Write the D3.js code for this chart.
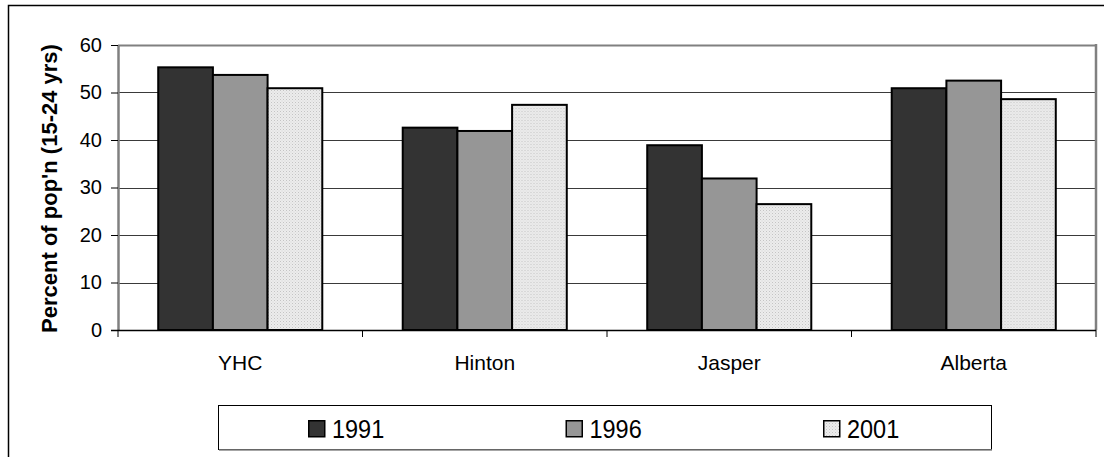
<!DOCTYPE html>
<html>
<head>
<meta charset="utf-8">
<script src="https://cdn.jsdelivr.net/npm/d3@7"></script>
<style>
  html, body { margin: 0; padding: 0; background: #fff; }
  svg { display: block; font-family: Arial, "Liberation Sans", sans-serif; }
</style>
</head>
<body>
<svg id="chart" width="1104" height="457"></svg>
<script>
// Share of population aged 15-24, by region and census year
const categories = ["YHC", "Hinton", "Jasper", "Alberta"];
const seriesNames = ["1991", "1996", "2001"];
const values1991 = [55.3, 42.6, 38.9, 50.9];
const values1996 = [53.7, 41.9, 31.9, 52.5];
const values2001 = [50.9, 47.4, 26.5, 48.6];
const yTicks = [0, 10, 20, 30, 40, 50, 60];
const yTitle = "Percent of pop'n (15-24 yrs)";

const seriesValues = [values1991, values1996, values2001];
const rows = categories.map((c, i) => ({
  category: c,
  values: seriesNames.map((s, k) => ({ series: s, value: seriesValues[k][i] }))
}));

const svg = d3.select("#chart");
const plot = { left: 118, right: 1096, top: 45, bottom: 330 };
const FONT = "Arial, 'Liberation Sans', sans-serif";

// Fills: dark, mid grey, and a fine dotted light grey
const defs = svg.append("defs");
const pat = defs.append("pattern")
  .attr("id", "dots").attr("patternUnits", "userSpaceOnUse")
  .attr("width", 3).attr("height", 3);
pat.append("rect").attr("width", 3).attr("height", 3).attr("fill", "#ececec");
pat.append("rect").attr("x", 0).attr("y", 0).attr("width", 1).attr("height", 1).attr("fill", "#c4c4c4");
pat.append("rect").attr("x", 1.5).attr("y", 1.5).attr("width", 1).attr("height", 1).attr("fill", "#d4d4d4");

const color = d3.scaleOrdinal().domain(seriesNames).range(["#333333", "#969696", "url(#dots)"]);

// Outer chart frame
svg.append("path")
  .attr("d", "M8.5,457 L8.5,5.5 L1104,5.5")
  .attr("fill", "none").attr("stroke", "#000").attr("stroke-width", 1.5);

const x = d3.scaleBand().domain(categories).range([plot.left, plot.right]).padding(0);
const bw = x.bandwidth();
const groupW = bw * 0.671;
const xs = d3.scaleBand().domain(seriesNames)
  .range([(bw - groupW) / 2, (bw + groupW) / 2]).padding(0);
const y = d3.scaleLinear().domain([0, 60]).range([plot.bottom, plot.top]);

// Gridlines
svg.append("g").selectAll("line")
  .data(yTicks.filter(t => t > 0))
  .join("line")
  .attr("x1", plot.left).attr("x2", plot.right)
  .attr("y1", d => Math.round(y(d)) + 0.5).attr("y2", d => Math.round(y(d)) + 0.5)
  .attr("stroke", d => d === 60 ? "#808080" : "#3a3a3a")
  .attr("stroke-width", d => d === 60 ? 2 : 1);

// Right edge of plot area
svg.append("line")
  .attr("x1", plot.right).attr("x2", plot.right)
  .attr("y1", plot.top - 1).attr("y2", plot.bottom)
  .attr("stroke", "#808080").attr("stroke-width", 2.5);

// Y axis
const yAxis = svg.append("g")
  .attr("transform", `translate(${plot.left},0)`)
  .call(d3.axisLeft(y).tickValues(yTicks).tickSize(7).tickPadding(9).tickSizeOuter(0));
yAxis.select(".domain").attr("stroke", "#808080").attr("stroke-width", 2.5);
yAxis.selectAll(".tick line").attr("stroke", "#000");
yAxis.selectAll(".tick text")
  .attr("font-size", 20).attr("fill", "#000")
  .attr("font-family", FONT);

// Bars
const groups = svg.append("g").selectAll("g")
  .data(rows).join("g")
  .attr("transform", d => `translate(${x(d.category)},0)`);
groups.selectAll("rect")
  .data(d => d.values).join("rect")
  .attr("x", d => xs(d.series))
  .attr("width", xs.bandwidth())
  .attr("y", d => y(d.value))
  .attr("height", d => y(0) - y(d.value))
  .attr("fill", d => color(d.series))
  .attr("stroke", "#000").attr("stroke-width", 2);

// X axis
const xAxis = svg.append("g")
  .attr("transform", `translate(0,${plot.bottom})`)
  .call(d3.axisBottom(x).tickSize(0).tickPadding(24));
xAxis.select(".domain").attr("stroke", "#000").attr("stroke-width", 1.5)
  .attr("d", `M${plot.left - 7},0.5H${plot.right}`);
xAxis.selectAll(".tick text")
  .attr("font-size", 21).attr("fill", "#000")
  .attr("font-family", FONT)
  .attr("dy", null).attr("y", 40)
  .attr("dominant-baseline", "alphabetic");
// Category separator ticks
svg.append("g").selectAll("line")
  .data(categories.map(c => x(c)).concat([plot.right]))
  .join("line")
  .attr("x1", d => d).attr("x2", d => d)
  .attr("y1", plot.bottom).attr("y2", plot.bottom + 7)
  .attr("stroke", "#000").attr("stroke-width", 1);

// Y title
svg.append("text")
  .attr("transform", `translate(57,${(plot.top + plot.bottom) / 2 + 1}) rotate(-90)`)
  .attr("text-anchor", "middle")
  .attr("font-size", 22).attr("font-weight", "bold")
  .text(yTitle);

// Legend
const legend = svg.append("g");
legend.append("rect")
  .attr("x", 218.5).attr("y", 405.5).attr("width", 773).attr("height", 44)
  .attr("fill", "#fff").attr("stroke", "#000").attr("stroke-width", 1);
legend.append("line")
  .attr("x1", 219).attr("x2", 992).attr("y1", 450).attr("y2", 450)
  .attr("stroke", "#888").attr("stroke-width", 1.5);
const lx = d3.scalePoint().domain(seriesNames).range([308, 823]);
const items = legend.selectAll("g.item").data(seriesNames).join("g")
  .attr("class", "item")
  .attr("transform", d => `translate(${lx(d)},0)`);
items.append("rect")
  .attr("x", 0.75).attr("y", 420.75).attr("width", 16).attr("height", 16)
  .attr("fill", d => color(d)).attr("stroke", "#000").attr("stroke-width", 1.5);
items.append("text")
  .attr("transform", "translate(24,438) scale(1,1.08)")
  .attr("font-size", 23.5)
  .text(d => d);
</script>
</body>
</html>
